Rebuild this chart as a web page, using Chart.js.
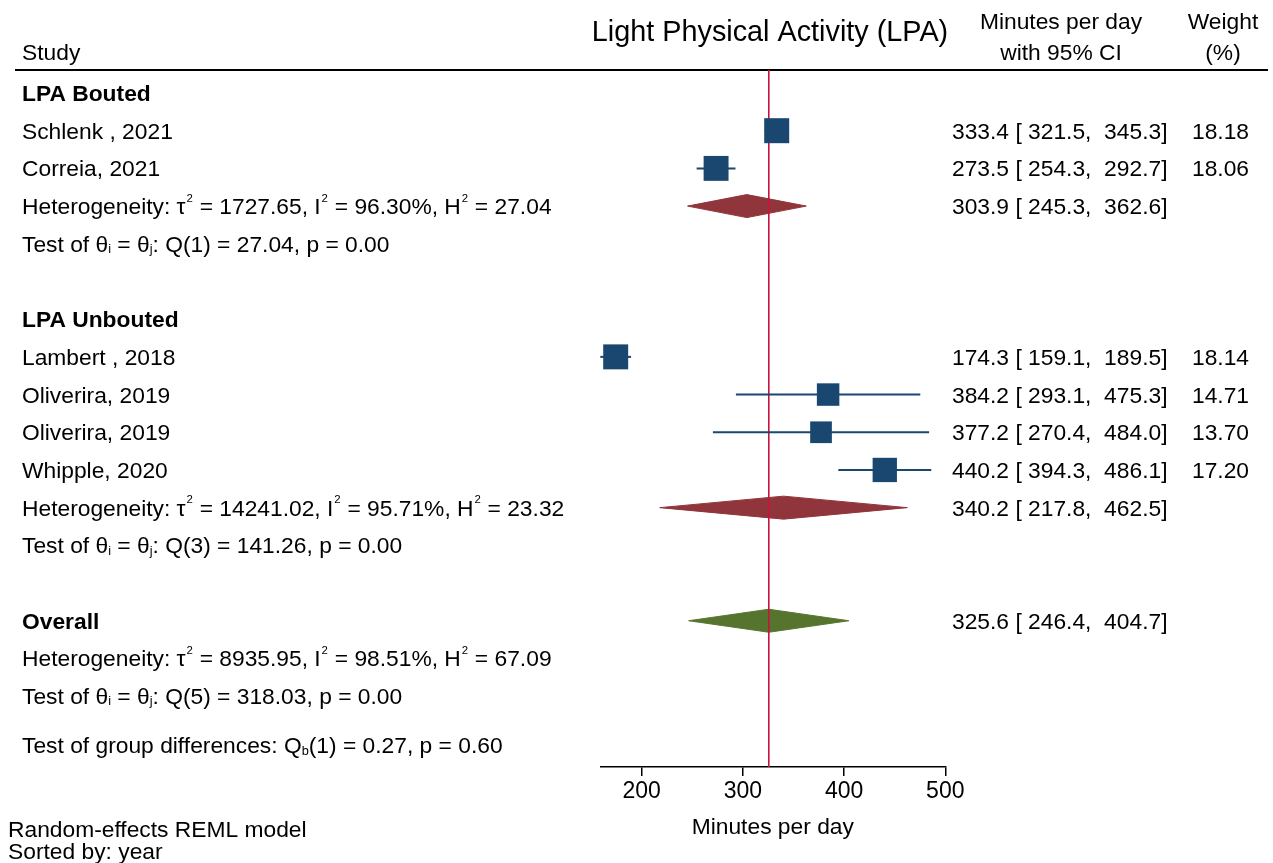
<!DOCTYPE html>
<html>
<head>
<meta charset="utf-8">
<script src="https://cdn.jsdelivr.net/npm/chart.js@4.4.1/dist/chart.umd.min.js"></script>
<style>
html,body{margin:0;padding:0;background:#ffffff;}
canvas{display:block;}
</style>
</head>
<body>
<canvas id="c" width="1273" height="863"></canvas>
<script>
// ---------------- DATA ----------------
const groupNames   = ["LPA Bouted", "LPA Unbouted"];
const studyLabels  = ["Schlenk , 2021", "Correia, 2021", "Lambert , 2018", "Oliverira, 2019", "Oliverira, 2019", "Whipple, 2020"];
const studyGroup   = [0, 0, 1, 1, 1, 1];
const studyEst     = [333.4, 273.5, 174.3, 384.2, 377.2, 440.2];
const studyLow     = [321.5, 254.3, 159.1, 293.1, 270.4, 394.3];
const studyHigh    = [345.3, 292.7, 189.5, 475.3, 484.0, 486.1];
const studyWeight  = [18.18, 18.06, 18.14, 14.71, 13.70, 17.20];
const groupEst     = [303.9, 340.2];
const groupLow     = [245.3, 217.8];
const groupHigh    = [362.6, 462.5];
const groupTau2    = [1727.65, 14241.02];
const groupI2      = [96.30, 95.71];
const groupH2      = [27.04, 23.32];
const groupQ       = [27.04, 141.26];
const groupDf      = [1, 3];
const groupP       = [0.00, 0.00];
const overallEffect = [325.6, 246.4, 404.7];          // estimate, low, high
const overallHet    = [8935.95, 98.51, 67.09];        // tau2, I2, H2
const overallTest   = [5, 318.03, 0.00];              // df, Q, p
const groupDiffTest = [1, 0.27, 0.60];                // df, Qb, p
const xTicks = [200, 300, 400, 500];
const xRange = [159.1, 500];

// ---------------- STYLE ----------------
const FAM = '"Liberation Sans", Arial, Helvetica, sans-serif';
const NAVY = '#1a476f', MAROON = '#90353b', GREEN = '#55752f', RED = '#c8143c';
const FS = 22.8;
const DIAMOND_HALF = 0.305;   // half height of diamonds in row units
const MAX_SIDE = 25;          // px side of largest square

// ---------------- ROW LAYOUT ----------------
const rows = [];
const studyRow = [];
const groupRow = [];
let r = 0;
groupNames.forEach((g, gi) => {
  rows.push({type: 'group', text: g, y: r++});
  studyLabels.forEach((s, i) => {
    if (studyGroup[i] === gi) { studyRow[i] = r; rows.push({type: 'study', i: i, y: r++}); }
  });
  groupRow[gi] = r;
  rows.push({type: 'het', gi: gi, y: r++});
  rows.push({type: 'test', gi: gi, y: r++});
  r++;
});
const overallRow = r;
rows.push({type: 'overall', y: r++});
rows.push({type: 'ohet', y: r++});
rows.push({type: 'otest', y: r++});
rows.push({type: 'gdiff', y: r + 0.3});
const yMin = -0.61, yMax = r + 0.88;

// ---------------- DATASETS ----------------
const datasets = [];
function diamond(est, lo, hi, row, col) {
  return {
    type: 'line', showLine: true, order: 4, clip: false,
    data: [{x: lo, y: row}, {x: est, y: row - DIAMOND_HALF}, {x: hi, y: row}, {x: est, y: row + DIAMOND_HALF}, {x: lo, y: row}],
    borderColor: col, backgroundColor: col, borderWidth: 1, fill: 'shape',
    pointRadius: 0, tension: 0
  };
}
groupEst.forEach((e, gi) => datasets.push(diamond(e, groupLow[gi], groupHigh[gi], groupRow[gi], MAROON)));
datasets.push(diamond(overallEffect[0], overallEffect[1], overallEffect[2], overallRow, GREEN));
datasets.push({
  type: 'line', showLine: true, order: 3, clip: false,
  data: [{x: overallEffect[0], y: yMin}, {x: overallEffect[0], y: yMax}],
  borderColor: RED, borderWidth: 1.6, pointRadius: 0, fill: false
});
studyEst.forEach((e, i) => {
  datasets.push({
    type: 'line', showLine: true, order: 2, clip: false,
    data: [{x: studyLow[i], y: studyRow[i]}, {x: studyHigh[i], y: studyRow[i]}],
    borderColor: NAVY, borderWidth: 2, pointRadius: 0, fill: false
  });
});
const maxW = Math.max(...studyWeight);
datasets.push({
  type: 'scatter', showLine: false, order: 1, clip: false,
  data: studyEst.map((e, i) => ({x: e, y: studyRow[i]})),
  pointStyle: 'rect',
  pointRadius: studyWeight.map(w => MAX_SIDE * Math.sqrt(w / maxW) / Math.SQRT2),
  pointHoverRadius: studyWeight.map(w => MAX_SIDE * Math.sqrt(w / maxW) / Math.SQRT2),
  backgroundColor: NAVY, borderColor: NAVY, borderWidth: 0
});

// ---------------- TEXT ----------------
function rich(ctx, str, x, y, size, weight, align) {
  // '^c' = superscript char, '_c' = subscript char
  const parts = [];
  let i = 0;
  while (i < str.length) {
    const ch = str[i];
    if ((ch === '^' || ch === '_') && i + 1 < str.length) {
      parts.push({t: str[i + 1], k: ch}); i += 2;
    } else {
      let j = i; while (j < str.length && str[j] !== '^' && str[j] !== '_') j++;
      parts.push({t: str.slice(i, j), k: ''}); i = j;
    }
  }
  const fontFor = k => {
    const sz = k === '^' ? size * 0.5 : (k === '_' ? size * 0.56 : size);
    return `${weight} ${sz}px ${FAM}`;
  };
  let total = 0;
  parts.forEach(p => { ctx.font = fontFor(p.k); p.w = ctx.measureText(p.t).width + (p.k === '^' ? size * 0.06 : 0); total += p.w; });
  let cx = align === 'right' ? x - total : (align === 'center' ? x - total / 2 : x);
  ctx.textAlign = 'left';
  ctx.textBaseline = 'alphabetic';
  parts.forEach(p => {
    ctx.font = fontFor(p.k);
    const dy = p.k === '^' ? -size * 0.55 : (p.k === '_' ? size * 0.06 : 0);
    ctx.fillText(p.t, cx + (p.k === '^' ? size * 0.04 : 0), y + dy);
    cx += p.w;
  });
}
const ciText = (e, l, h) => `${e.toFixed(1)} [ ${l.toFixed(1)},  ${h.toFixed(1)}]`;
const hetText = (t, i2, h2) => `Heterogeneity: τ^2 = ${t.toFixed(2)}, I^2 = ${i2.toFixed(2)}%, H^2 = ${h2.toFixed(2)}`;
const testText = (df, q, p) => `Test of θ_i = θ_j: Q(${df}) = ${q.toFixed(2)}, p = ${p.toFixed(2)}`;

const LEFT_X = 22, CI_X = 952, W_X = 1249;

const textPlugin = {
  id: 'forestText',
  beforeDatasetsDraw(chart) {
    const ctx = chart.ctx;
    const top = chart.chartArea.top;
    ctx.save();
    ctx.strokeStyle = '#000'; ctx.lineWidth = 2;
    ctx.beginPath(); ctx.moveTo(15, top); ctx.lineTo(1268, top); ctx.stroke();
    ctx.restore();
  },
  afterDraw(chart) {
    const ctx = chart.ctx;
    const ys = chart.scales.y;
    ctx.save();
    ctx.fillStyle = '#000';
    // header
    rich(ctx, 'Study', LEFT_X, 60, FS, 'normal', 'left');
    rich(ctx, 'Light Physical Activity (LPA)', 770, 41, 28.8, 'normal', 'center');
    rich(ctx, 'Minutes per day', 1061, 29, FS, 'normal', 'center');
    rich(ctx, 'with 95% CI', 1061, 60, FS, 'normal', 'center');
    rich(ctx, 'Weight', 1223, 29, FS, 'normal', 'center');
    rich(ctx, '(%)', 1223, 60, FS, 'normal', 'center');
    const bo = 8;
    rows.forEach(row => {
      const y = ys.getPixelForValue(row.y) + bo;
      switch (row.type) {
        case 'group':
          rich(ctx, row.text, LEFT_X, y, FS, 'bold', 'left'); break;
        case 'study': {
          const i = row.i;
          rich(ctx, studyLabels[i], LEFT_X, y, FS, 'normal', 'left');
          rich(ctx, ciText(studyEst[i], studyLow[i], studyHigh[i]), CI_X, y, FS, 'normal', 'left');
          rich(ctx, studyWeight[i].toFixed(2), W_X, y, FS, 'normal', 'right');
          break;
        }
        case 'het': {
          const g = row.gi;
          rich(ctx, hetText(groupTau2[g], groupI2[g], groupH2[g]), LEFT_X, y, FS, 'normal', 'left');
          rich(ctx, ciText(groupEst[g], groupLow[g], groupHigh[g]), CI_X, y, FS, 'normal', 'left');
          break;
        }
        case 'test': {
          const g = row.gi;
          rich(ctx, testText(groupDf[g], groupQ[g], groupP[g]), LEFT_X, y, FS, 'normal', 'left');
          break;
        }
        case 'overall':
          rich(ctx, 'Overall', LEFT_X, y, FS, 'bold', 'left');
          rich(ctx, ciText(overallEffect[0], overallEffect[1], overallEffect[2]), CI_X, y, FS, 'normal', 'left');
          break;
        case 'ohet':
          rich(ctx, hetText(overallHet[0], overallHet[1], overallHet[2]), LEFT_X, y, FS, 'normal', 'left'); break;
        case 'otest':
          rich(ctx, testText(overallTest[0], overallTest[1], overallTest[2]), LEFT_X, y, FS, 'normal', 'left'); break;
        case 'gdiff':
          rich(ctx, `Test of group differences: Q_b(${groupDiffTest[0]}) = ${groupDiffTest[1].toFixed(2)}, p = ${groupDiffTest[2].toFixed(2)}`, LEFT_X, y, FS, 'normal', 'left');
          break;
      }
    });
    // notes
    rich(ctx, 'Random-effects REML model', 8, 837, FS, 'normal', 'left');
    rich(ctx, 'Sorted by: year', 8, 859, FS, 'normal', 'left');
    ctx.restore();
  }
};

// ---------------- CHART ----------------
new Chart(document.getElementById('c'), {
  type: 'scatter',
  data: {datasets: datasets},
  options: {
    responsive: false,
    animation: false,
    devicePixelRatio: 1,
    events: [],
    layout: {padding: {left: 600.3, right: 327.7, top: 70, bottom: 0}},
    plugins: {legend: {display: false}, tooltip: {enabled: false}, title: {display: false}},
    scales: {
      x: {
        type: 'linear', position: 'bottom', min: xRange[0], max: xRange[1],
        afterBuildTicks: s => { s.ticks = xTicks.map(v => ({value: v})); },
        afterFit: s => { s.height = 96; },
        grid: {drawOnChartArea: false, drawTicks: true, tickLength: 9, color: '#000', lineWidth: 1.5},
        border: {display: true, color: '#000', width: 1.5},
        ticks: {color: '#000', font: {family: FAM, size: 23}, padding: 2, maxRotation: 0, autoSkip: false},
        title: {display: true, text: 'Minutes per day', color: '#000', font: {family: FAM, size: FS}, padding: {top: 0, bottom: 22}}
      },
      y: {type: 'linear', reverse: true, min: yMin, max: yMax, display: false}
    }
  },
  plugins: [textPlugin]
});
</script>
</body>
</html>
